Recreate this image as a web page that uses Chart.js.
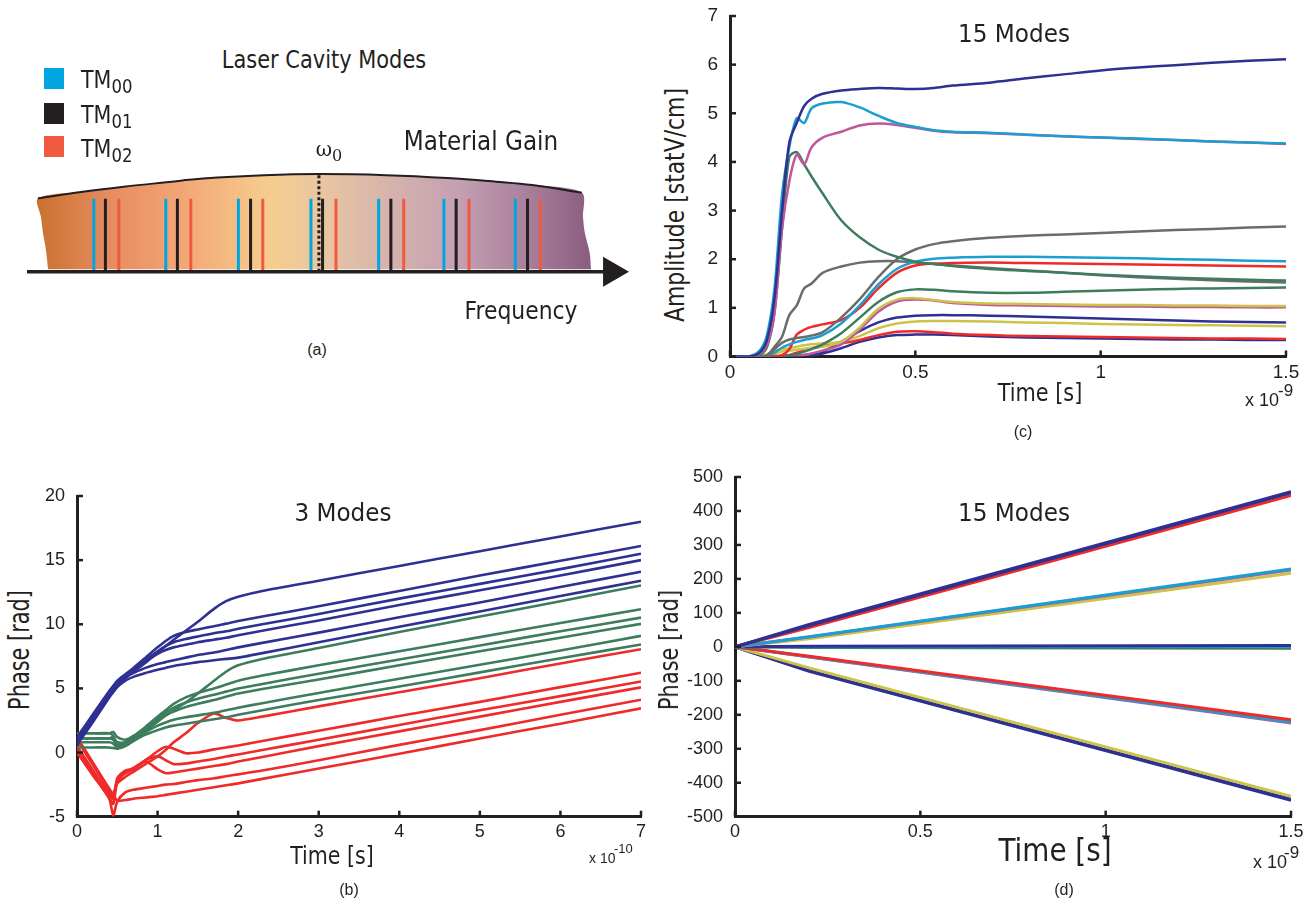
<!DOCTYPE html>
<html>
<head>
<meta charset="utf-8">
<script src="https://cdn.jsdelivr.net/npm/chart.js@4.4.1/dist/chart.umd.min.js"></script>
<style>
html,body{margin:0;padding:0;background:#fff;}
body{width:1315px;height:903px;position:relative;overflow:hidden;font-family:'DejaVu Sans',sans-serif;color:#231f20;}
canvas{position:absolute;}
.t{position:absolute;white-space:nowrap;line-height:1;transform:translate(-50%,-50%);}
.cap{font-family:'Liberation Sans',Arial,sans-serif;font-size:16px;}
.mul{position:absolute;white-space:nowrap;line-height:1;transform:translate(0,-50%);font-family:'Liberation Sans',Arial,sans-serif;}
.tm{position:absolute;white-space:nowrap;line-height:1;font-size:24px;transform-origin:left center;transform:translate(0,-50%) scaleX(.86);}
.tm sub{font-size:.8em;vertical-align:-.25em;line-height:0;}
.sw{position:absolute;width:20px;height:21px;}
</style>
</head>
<body>
<canvas id="chartA" width="610" height="146" style="left:20px;top:150px"></canvas>
<canvas id="chartB" width="624" height="365" style="left:37px;top:484px"></canvas>
<canvas id="chartC" width="620" height="385" style="left:690px;top:4px"></canvas>
<canvas id="chartD" width="626" height="384" style="left:685px;top:465px"></canvas>

<!-- panel (a) text -->
<div class="t" data-w="204" style="left:324px;top:60px;font-size:24px">Laser Cavity Modes</div>
<div class="t" data-w="154" style="left:481px;top:140px;font-size:27px">Material Gain</div>
<div class="t" data-w="113" style="left:521px;top:310px;font-size:25px">Frequency</div>
<div class="t" style="left:329px;top:151px;font-size:20px;font-family:'DejaVu Serif',serif">ω<sub style="font-size:.8em">0</sub></div>
<div class="t cap" style="left:317px;top:350px">(a)</div>
<div class="sw" style="left:44px;top:68px;background:#00a6e2"></div>
<div class="sw" style="left:44px;top:103px;background:#231f20"></div>
<div class="sw" style="left:44px;top:136px;background:#f05a3f"></div>
<div class="tm" style="left:81px;top:80px">TM<sub>00</sub></div>
<div class="tm" style="left:81px;top:115px">TM<sub>01</sub></div>
<div class="tm" style="left:81px;top:149px">TM<sub>02</sub></div>

<!-- panel (b) text -->
<div class="t" data-w="97" style="left:343px;top:512px;font-size:25px">3 Modes</div>
<div class="t" data-w="84" style="left:332px;top:856px;font-size:24px">Time [s]</div>
<div class="t r" data-w="120" style="left:20px;top:650px;font-size:28px">Phase [rad]</div>
<div class="mul" style="left:589px;top:858px;font-size:14px">x 10</div>
<div class="mul" style="left:614px;top:848px;font-size:13px">-10</div>
<div class="t cap" style="left:349px;top:890px">(b)</div>

<!-- panel (c) text -->
<div class="t" data-w="112" style="left:1014px;top:33px;font-size:25px">15 Modes</div>
<div class="t" data-w="85" style="left:1040px;top:393px;font-size:24px">Time [s]</div>
<div class="t r" data-w="234" style="left:675px;top:205px;font-size:26px">Amplitude [statV/cm]</div>
<div class="mul" style="left:1245px;top:400px;font-size:18px">x 10</div>
<div class="mul" style="left:1278px;top:390px;font-size:17px">-9</div>
<div class="t cap" style="left:1023px;top:432px">(c)</div>

<!-- panel (d) text -->
<div class="t" data-w="112" style="left:1014px;top:512px;font-size:25px">15 Modes</div>
<div class="t" data-w="113" style="left:1055px;top:850px;font-size:32px">Time [s]</div>
<div class="t r" data-w="120" style="left:669px;top:650px;font-size:26px">Phase [rad]</div>
<div class="mul" style="left:1253px;top:862px;font-size:18px">x 10</div>
<div class="mul" style="left:1284px;top:852px;font-size:17px">-9</div>
<div class="t cap" style="left:1064px;top:890px">(d)</div>

<script>
const INK = '#231f20';

// ---------- (a) schematic: frequency axis units 0..100, gain units ----------
const modeTM00 = [12.1, 23.9, 35.8, 47.7, 58.8, 69.5, 81.2];
const modeTM01 = [14.0, 25.8, 37.8, 49.6, 60.8, 71.5, 83.2];
const modeTM02 = [16.2, 28.0, 39.8, 51.8, 62.9, 73.6, 85.3];
const modeHeight = 6.0;
const omega0 = 49.0;
const gainX = [2.95, 10, 17, 24, 30, 40, 49, 60, 70, 78, 84, 92.1];
const gainY = [6.03, 6.55, 6.98, 7.35, 7.65, 7.92, 8.02, 7.93, 7.7, 7.4, 7.12, 6.49];
const leftEdgeX = [4.6, 4.26, 3.77, 3.44, 2.95];
const leftEdgeY = [0.2, 1.77, 3.17, 4.47, 6.03];
const rightEdgeX = [92.1, 92.3, 92.6, 93.4, 93.6];
const rightEdgeY = [6.49, 4.47, 3.17, 1.52, 0.2];
const freqAxis = [1.15, 97];

// ---------- (b) 3 modes phase, time x1e-10 s ----------
const tB = [0, 0.2, 0.4, 0.45, 0.5, 0.6, 0.7, 0.85, 1.0, 1.1, 1.2, 1.35, 1.5, 1.7, 1.85, 2.0, 2.3, 3, 4, 5, 6, 7];
const blueB = [
  [1.0, 2.8, 4.6, 5.0, 5.4, 5.9, 6.3, 7.0, 7.8, 8.3, 8.8, 9.5, 10.2, 11.2, 11.8, 12.15, 12.6, 13.4, 14.55, 15.7, 16.85, 18.0],
  [1.2, 3.0, 4.8, 5.2, 5.6, 6.1, 6.6, 7.4, 8.2, 8.7, 9.1, 9.4, 9.6, 9.85, 10.05, 10.25, 10.6, 11.4, 12.6, 13.8, 14.95, 16.1],
  [0.9, 2.7, 4.5, 4.9, 5.3, 5.9, 6.4, 7.2, 7.9, 8.3, 8.6, 8.85, 9.05, 9.3, 9.45, 9.65, 10.0, 10.8, 12.0, 13.15, 14.3, 15.5],
  [0.8, 2.6, 4.4, 4.8, 5.2, 5.8, 6.3, 7.1, 7.7, 8.0, 8.2, 8.4, 8.6, 8.8, 8.95, 9.15, 9.5, 10.3, 11.5, 12.65, 13.8, 15.0],
  [0.7, 2.5, 4.4, 4.9, 5.4, 5.9, 6.2, 6.6, 6.9, 7.05, 7.2, 7.4, 7.6, 7.8, 8.0, 8.2, 8.55, 9.35, 10.55, 11.7, 12.9, 14.1],
  [0.6, 2.4, 4.3, 4.7, 5.1, 5.6, 5.9, 6.2, 6.45, 6.6, 6.75, 6.9, 7.05, 7.2, 7.3, 7.4, 7.75, 8.6, 9.8, 11.0, 12.2, 13.4]
];
const greenB = [
  [1.5, 1.5, 1.5, 1.3, 0.6, 0.7, 1.1, 1.8, 2.5, 2.9, 3.3, 3.9, 4.6, 5.6, 6.3, 6.8, 7.3, 8.15, 9.4, 10.6, 11.8, 13.03],
  [1.5, 1.5, 1.5, 1.6, 1.2, 1.0, 1.3, 2.0, 2.8, 3.3, 3.8, 4.3, 4.65, 5.0, 5.3, 5.6, 6.0, 6.8, 7.9, 9.0, 10.1, 11.17],
  [1.1, 1.1, 1.1, 1.2, 0.8, 0.8, 1.2, 1.9, 2.6, 3.1, 3.5, 3.9, 4.2, 4.5, 4.75, 5.0, 5.35, 6.15, 7.25, 8.35, 9.45, 10.52],
  [1.1, 1.1, 1.1, 1.0, 0.5, 0.6, 1.0, 1.7, 2.4, 2.9, 3.2, 3.55, 3.8, 4.1, 4.35, 4.6, 4.95, 5.7, 6.8, 7.9, 8.95, 10.03],
  [0.8, 0.8, 0.8, 0.7, 0.4, 0.6, 1.0, 1.6, 2.1, 2.35, 2.55, 2.75, 2.9, 3.1, 3.3, 3.5, 3.85, 4.65, 5.75, 6.85, 7.95, 9.1],
  [0.4, 0.4, 0.4, 0.35, 0.3, 0.5, 0.9, 1.4, 1.75, 1.95, 2.1, 2.25, 2.4, 2.6, 2.75, 2.95, 3.3, 4.1, 5.15, 6.25, 7.35, 8.42]
];
const redB = [
  [1.2, -0.8, -2.8, -3.2, -2.4, -1.9, -1.5, -0.9, -0.3, 0.2, 0.8, 1.5, 2.3, 3.05, 2.7, 2.5, 2.8, 3.6, 4.7, 5.8, 6.95, 8.06],
  [1.0, -1.0, -3.0, -3.4, -2.2, -1.6, -1.3, -0.6, 0.1, 0.45, 0.3, -0.05, 0.0, 0.25, 0.4, 0.55, 0.9, 1.7, 2.85, 3.95, 5.1, 6.22],
  [0.5, -1.4, -3.3, -3.6, -2.0, -1.4, -1.3, -0.6, -0.3, -0.6, -0.9, -0.85, -0.7, -0.5, -0.3, -0.15, 0.2, 1.0, 2.15, 3.3, 4.4, 5.54],
  [0.2, -1.7, -3.5, -4.0, -2.3, -1.5, -1.2, -0.7, -1.3, -1.6, -1.55, -1.4, -1.25, -1.05, -0.9, -0.7, -0.35, 0.5, 1.65, 2.8, 3.95, 5.08],
  [0.0, -1.8, -3.6, -4.9, -3.8, -3.1, -2.9, -2.75, -2.6, -2.5, -2.45, -2.3, -2.15, -2.0, -1.85, -1.7, -1.4, -0.6, 0.6, 1.75, 2.95, 4.12],
  [0.0, -1.5, -3.2, -3.3, -3.75, -3.7, -3.6, -3.5, -3.4, -3.3, -3.2, -3.05, -2.9, -2.7, -2.55, -2.4, -2.05, -1.25, -0.1, 1.1, 2.25, 3.45]
];

// ---------- (c) 15 modes amplitude, time x1e-9 s ----------
const tC = [0, 0.05, 0.08, 0.1, 0.12, 0.14, 0.16, 0.18, 0.2, 0.22, 0.25, 0.3, 0.35, 0.4, 0.45, 0.5, 0.55, 0.6, 0.7, 0.8, 0.9, 1.0, 1.1, 1.2, 1.3, 1.4, 1.5];
const ampNavyTop   = [0, 0, 0.08, 0.35, 1.2, 2.95, 4.4, 4.8, 5.15, 5.3, 5.4, 5.47, 5.5, 5.52, 5.51, 5.5, 5.52, 5.57, 5.63, 5.72, 5.8, 5.88, 5.94, 5.99, 6.04, 6.08, 6.11];
const ampCyanTop   = [0, 0, 0.12, 0.45, 1.4, 3.3, 4.3, 4.9, 4.8, 5.1, 5.2, 5.23, 5.12, 4.95, 4.8, 4.72, 4.65, 4.62, 4.6, 4.56, 4.53, 4.5, 4.48, 4.45, 4.42, 4.4, 4.38];
const ampMagTop    = [0, 0, 0.05, 0.25, 0.9, 2.6, 3.6, 4.15, 3.95, 4.3, 4.5, 4.62, 4.75, 4.79, 4.76, 4.7, 4.64, 4.61, 4.59, 4.56, 4.53, 4.5, 4.47, 4.45, 4.42, 4.4, 4.37];
const ampGreenTop  = [0, 0, 0.03, 0.2, 0.9, 2.6, 4.1, 4.2, 3.95, 3.7, 3.35, 2.8, 2.45, 2.2, 2.05, 1.95, 1.9, 1.86, 1.8, 1.76, 1.72, 1.68, 1.65, 1.62, 1.6, 1.58, 1.56];
const ampGrayRise  = [0, 0, 0, 0.02, 0.15, 0.28, 0.35, 0.38, 0.4, 0.43, 0.5, 0.8, 1.18, 1.63, 2.0, 2.2, 2.31, 2.37, 2.44, 2.48, 2.51, 2.54, 2.57, 2.6, 2.62, 2.65, 2.67];
const ampCyanLow   = [0, 0, 0, 0.02, 0.08, 0.18, 0.25, 0.3, 0.34, 0.37, 0.44, 0.68, 1.05, 1.48, 1.8, 1.95, 2.01, 2.03, 2.05, 2.05, 2.04, 2.03, 2.02, 2.0, 1.99, 1.97, 1.96];
const ampRedUp     = [0, 0, 0, 0, 0.01, 0.03, 0.15, 0.45, 0.55, 0.61, 0.66, 0.75, 1.0, 1.4, 1.72, 1.87, 1.91, 1.92, 1.93, 1.92, 1.91, 1.9, 1.89, 1.88, 1.87, 1.86, 1.85];
const ampGrayDec   = [0, 0, 0, 0.02, 0.2, 0.4, 0.85, 1.05, 1.4, 1.5, 1.72, 1.85, 1.93, 1.96, 1.96, 1.93, 1.9, 1.87, 1.82, 1.77, 1.72, 1.67, 1.63, 1.6, 1.57, 1.54, 1.52];
const ampGreenLow  = [0, 0, 0, 0, 0, 0, 0.02, 0.05, 0.1, 0.15, 0.25, 0.48, 0.8, 1.12, 1.32, 1.38, 1.37, 1.34, 1.31, 1.31, 1.33, 1.35, 1.37, 1.39, 1.4, 1.41, 1.42];
const ampYellowUp  = [0, 0, 0, 0.02, 0.05, 0.1, 0.12, 0.14, 0.16, 0.18, 0.2, 0.3, 0.6, 0.98, 1.17, 1.2, 1.16, 1.12, 1.09, 1.08, 1.07, 1.06, 1.06, 1.05, 1.05, 1.04, 1.04];
const ampMagLow    = [0, 0, 0, 0, 0, 0.01, 0.02, 0.02, 0.03, 0.06, 0.12, 0.25, 0.55, 0.92, 1.13, 1.17, 1.15, 1.1, 1.06, 1.05, 1.04, 1.03, 1.03, 1.02, 1.02, 1.01, 1.01];
const ampNavyMid   = [0, 0, 0, 0, 0, 0.01, 0.02, 0.02, 0.03, 0.05, 0.1, 0.3, 0.52, 0.7, 0.8, 0.84, 0.85, 0.85, 0.84, 0.82, 0.8, 0.78, 0.76, 0.74, 0.72, 0.71, 0.7];
const ampYellowLow = [0, 0, 0.02, 0.05, 0.12, 0.15, 0.17, 0.2, 0.23, 0.25, 0.27, 0.3, 0.42, 0.58, 0.68, 0.72, 0.73, 0.73, 0.72, 0.7, 0.69, 0.67, 0.66, 0.65, 0.64, 0.63, 0.62];
const ampRedLow    = [0, 0, 0, 0, 0, 0.01, 0.03, 0.08, 0.13, 0.17, 0.22, 0.27, 0.34, 0.44, 0.51, 0.52, 0.5, 0.47, 0.44, 0.42, 0.41, 0.4, 0.39, 0.38, 0.37, 0.37, 0.36];
const ampNavyLow   = [0, 0, 0, 0, 0, 0, 0, 0, 0, 0.01, 0.06, 0.17, 0.3, 0.39, 0.44, 0.45, 0.45, 0.44, 0.41, 0.39, 0.38, 0.37, 0.36, 0.35, 0.35, 0.34, 0.34];

// ---------- (d) 15 modes phase, time x1e-9 s ----------
const tD = [0, 0.2, 1.5];
const phNavyA   = [0, 66, 457];
const phNavyB   = [0, 63, 454];
const phRedA    = [0, 57, 446];
const phCyanA   = [0, 30, 229];
const phMagA    = [0, 29, 226];
const phYellowA = [0, 24, 217];
const phNavyC   = [0, 2, 4];
const phCyanC   = [0, 0, 1];
const phGreenC  = [0, -2, -4];
const phRedD    = [0, -28, -215];
const phCyanD   = [0, -29, -221];
const phMagD    = [0, -30, -224];
const phYellowE = [0, -62, -440];
const phNavyE   = [0, -70, -449];
const phNavyF   = [0, -72, -452];

const C = {navy:'#2e3192', cyan:'#1b9fd1', mag:'#c0579b', green:'#3d7d5d', gray:'#6b6c6e', red:'#ee2a2a', yellow:'#cdc34a'};

Chart.defaults.font.family = "'Liberation Sans', Arial, sans-serif";
Chart.defaults.color = INK;

const inTicks = {
  id: 'inTicks',
  afterDatasetsDraw(chart) {
    const {ctx, chartArea: a, scales} = chart;
    ctx.save();
    ctx.strokeStyle = INK;
    ctx.lineWidth = 2.5;
    scales.x.ticks.forEach(t => {
      const p = scales.x.getPixelForValue(t.value);
      ctx.beginPath(); ctx.moveTo(p, a.bottom); ctx.lineTo(p, a.bottom - 6); ctx.stroke();
    });
    scales.y.ticks.forEach(t => {
      const p = scales.y.getPixelForValue(t.value);
      ctx.beginPath(); ctx.moveTo(a.left, p); ctx.lineTo(a.left + 6, p); ctx.stroke();
    });
    ctx.restore();
  }
};

function series(xs, ys, color, width, tension) {
  return {
    data: xs.map((x, i) => ({x, y: ys[i]})),
    borderColor: color, borderWidth: width, pointRadius: 0,
    tension: tension, fill: false
  };
}

const fmt = v => String(+Number(v).toFixed(3));

function axes(xmin, xmax, xstep, ymin, ymax, ystep, yW, xH, fs) {
  const common = {
    type: 'linear',
    grid: {display: false, drawTicks: false},
    border: {display: true, width: 3, color: INK}
  };
  return {
    x: {...common, min: xmin, max: xmax,
        ticks: {stepSize: xstep, padding: 5, autoSkip: false, maxRotation: 0, font: {size: fs}, color: INK, callback: fmt},
        afterFit: s => { s.height = xH; s.paddingLeft = 0; s.paddingRight = 0; }},
    y: {...common, min: ymin, max: ymax,
        ticks: {stepSize: ystep, padding: 12, autoSkip: false, font: {size: fs}, color: INK, callback: fmt},
        afterFit: s => { s.width = yW; s.paddingTop = 0; s.paddingBottom = 0; }}
  };
}

function plotOptions(scales, pad) {
  return {
    responsive: false, animation: false, devicePixelRatio: 1,
    layout: {padding: pad, autoPadding: false},
    plugins: {legend: {display: false}, tooltip: {enabled: false}},
    scales
  };
}

// ---- panel (a)
const xy = (xs, ys) => xs.map((x, i) => ({x, y: ys[i]}));
const sticks = xs => xs.flatMap(x => [{x, y: 0}, {x, y: modeHeight}, {x, y: null}]);
const bandPoly = [...xy(leftEdgeX, leftEdgeY), ...xy(gainX, gainY).slice(1), ...xy(rightEdgeX, rightEdgeY).slice(1)];

function bandGradient(c) {
  const ch = c.chart;
  if (!ch.chartArea) return 'rgba(0,0,0,0)';
  const xs = ch.scales.x;
  const g = ch.ctx.createLinearGradient(xs.getPixelForValue(leftEdgeX[4]), 0, xs.getPixelForValue(rightEdgeX[4]), 0);
  [[0, '#c9722f'], [0.12, '#e58a5f'], [0.26, '#f2a676'], [0.42, '#f6cd8e'], [0.52, '#e7c5a2'],
   [0.63, '#d6b4ab'], [0.76, '#c4a0b2'], [0.88, '#aa819c'], [1, '#8a5c80']].forEach(s => g.addColorStop(s[0], s[1]));
  return g;
}

new Chart(document.getElementById('chartA'), {
  type: 'line',
  data: {datasets: [
    {data: [{x: freqAxis[1], y: 0}], showLine: false, pointStyle: 'triangle', pointRotation: 90,
     pointRadius: 17.3, pointBackgroundColor: INK, pointBorderWidth: 0, clip: false},
    {data: xy(freqAxis, [0, 0]), borderColor: INK, borderWidth: 3.5, pointRadius: 0, clip: false},
    {data: [{x: omega0, y: 0}, {x: omega0, y: gainY[6]}], borderColor: INK, borderWidth: 3, borderDash: [3, 2.5], pointRadius: 0},
    {data: sticks(modeTM00), borderColor: '#00a6e2', borderWidth: 3, pointRadius: 0, spanGaps: false},
    {data: sticks(modeTM01), borderColor: INK, borderWidth: 3, pointRadius: 0, spanGaps: false},
    {data: sticks(modeTM02), borderColor: '#f05a3f', borderWidth: 3, pointRadius: 0, spanGaps: false},
    {data: xy(gainX, gainY), borderColor: INK, borderWidth: 2, pointRadius: 0, tension: 0.4, clip: false},
    {data: bandPoly, borderWidth: 0, borderColor: 'rgba(0,0,0,0)', pointRadius: 0, tension: 0.3,
     fill: 'shape', backgroundColor: bandGradient, clip: false}
  ]},
  options: {
    ...plotOptions({x: {type: 'linear', min: 0, max: 100, display: false},
                    y: {type: 'linear', min: -2, max: 10, display: false}}, 0),
    plugins: {legend: {display: false}, tooltip: {enabled: false}, filler: {propagate: false}}
  }
});

// ---- panel (b)
new Chart(document.getElementById('chartB'), {
  type: 'line',
  data: {datasets: [
    ...blueB.map(v => series(tB, v, C.navy, 2.6, 0.25)),
    ...greenB.map(v => series(tB, v, C.green, 2.6, 0.25)),
    ...redB.map(v => series(tB, v, C.red, 2.6, 0.25))
  ]},
  options: plotOptions(axes(0, 7, 1, -5, 20, 5, 40, 32.3, 18), {top: 12, right: 20, left: 0, bottom: 0}),
  plugins: [inTicks]
});

// ---- panel (c)
new Chart(document.getElementById('chartC'), {
  type: 'line',
  data: {datasets: [
    series(tC, ampNavyTop, C.navy, 2.5, 0.3),
    series(tC, ampCyanTop, C.cyan, 2.5, 0.3),
    series(tC, ampMagTop, C.mag, 2.5, 0.3),
    series(tC, ampGreenTop, C.green, 2.5, 0.3),
    series(tC, ampGrayRise, C.gray, 2.5, 0.3),
    series(tC, ampCyanLow, C.cyan, 2.5, 0.3),
    series(tC, ampRedUp, C.red, 2.5, 0.3),
    series(tC, ampGrayDec, C.gray, 2.5, 0.3),
    series(tC, ampGreenLow, C.green, 2.5, 0.3),
    series(tC, ampYellowUp, C.yellow, 2.5, 0.3),
    series(tC, ampMagLow, C.mag, 2.5, 0.3),
    series(tC, ampNavyMid, C.navy, 2.5, 0.3),
    series(tC, ampYellowLow, C.yellow, 2.5, 0.3),
    series(tC, ampRedLow, C.red, 2.5, 0.3),
    series(tC, ampNavyLow, C.navy, 2.5, 0.3)
  ]},
  options: plotOptions(axes(0, 1.5, 0.5, 0, 7, 1, 40, 32.5, 19), {top: 12, right: 24, left: 0, bottom: 0}),
  plugins: [inTicks]
});

// ---- panel (d)
new Chart(document.getElementById('chartD'), {
  type: 'line',
  data: {datasets: [
    series(tD, phNavyA, C.navy, 3, 0),
    series(tD, phNavyB, C.navy, 3, 0),
    series(tD, phRedA, C.red, 3, 0),
    series(tD, phCyanA, C.cyan, 3, 0),
    series(tD, phMagA, C.mag, 3, 0),
    series(tD, phYellowA, C.yellow, 3, 0),
    series(tD, phNavyC, C.navy, 3, 0),
    series(tD, phCyanC, C.cyan, 3, 0),
    series(tD, phGreenC, C.green, 3, 0),
    series(tD, phRedD, C.red, 3, 0),
    series(tD, phCyanD, C.cyan, 3, 0),
    series(tD, phMagD, C.mag, 3, 0),
    series(tD, phYellowE, C.yellow, 3, 0),
    series(tD, phNavyE, C.navy, 3, 0),
    series(tD, phNavyF, C.navy, 3, 0)
  ]},
  options: plotOptions(axes(0, 1.5, 0.5, -500, 500, 100, 50, 32.3, 18), {top: 12, right: 20, left: 0, bottom: 0}),
  plugins: [inTicks]
});

// condense the titles to the widths they take in the figure
document.querySelectorAll('[data-w]').forEach(el => {
  const k = (+el.dataset.w / el.offsetWidth).toFixed(3);
  const rot = el.classList.contains('r') ? ' rotate(-90deg)' : '';
  el.style.transform = `translate(-50%,-50%)${rot} scaleX(${k})`;
});
</script>
</body>
</html>
